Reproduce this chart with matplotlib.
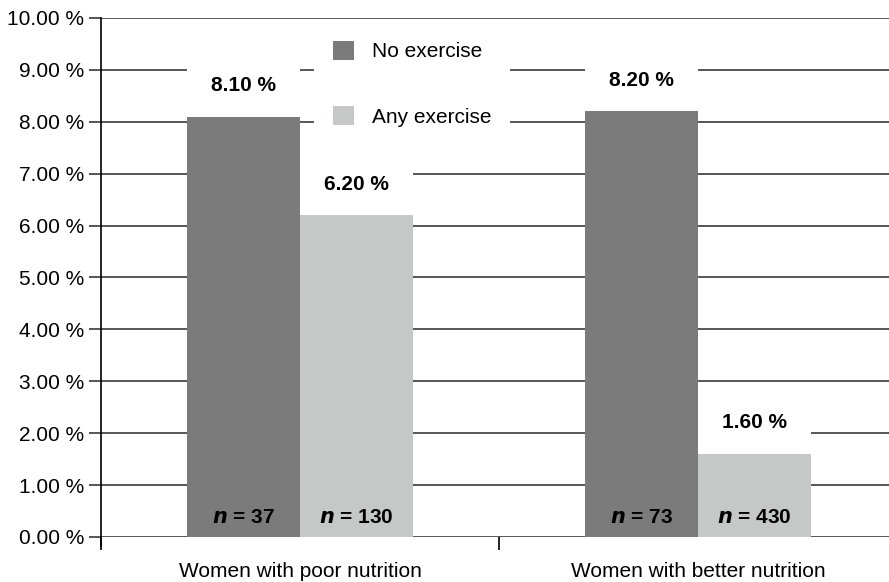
import matplotlib
matplotlib.use("Agg")
import matplotlib.pyplot as plt
from matplotlib.patches import Patch
import numpy as np

groups = ["Women with poor nutrition", "Women with better nutrition"]
series = ["No exercise", "Any exercise"]
no_exercise = [8.10, 8.20]
any_exercise = [6.20, 1.60]
n_no_exercise = [37, 73]
n_any_exercise = [130, 430]

colors = ["#7b7b7b", "#c6c8c7"]
grid_color = "#3a3a3a"

plt.rcParams["font.family"] = ["Liberation Sans", "DejaVu Sans"]
plt.rcParams["font.size"] = 15

fig = plt.figure(figsize=(8.89, 5.82), dpi=100)
ax = fig.add_axes([101 / 889, 45 / 582, 796 / 889, 519 / 582])

x = np.arange(len(groups))
width = 0.284
offsets = [-width / 2, width / 2]

for vals, ns, off, col in [(no_exercise, n_no_exercise, offsets[0], colors[0]),
                           (any_exercise, n_any_exercise, offsets[1], colors[1])]:
    xs = x + off
    ax.bar(xs, vals, width=width, color=col, zorder=3)
    for xi, v, n in zip(xs, vals, ns):
        # white label box sits over the gridlines, just above the bar
        ax.bar(xi, 1.0, bottom=v, width=width, color="white", zorder=2)
        ax.text(xi, v + 0.6, f"{v:.2f} %", ha="center", va="center",
                fontweight="bold", zorder=4)
        ax.text(xi, 0.2, f"$\\boldsymbol{{n}}$ = {n}", ha="center",
                va="bottom", fontweight="bold", zorder=4)

ax.set_xlim(-0.5, 1.5)
ax.set_ylim(0, 10)
ax.set_yticks(np.arange(0, 10.01, 1))
ax.set_yticklabels([f"{v:.2f} %" for v in np.arange(0, 10.01, 1)])
ax.yaxis.grid(True, color=grid_color, lw=1.2, zorder=1)
ax.set_axisbelow(True)

# category boundaries as ticks, names centred between them
ax.set_xticks([-0.5, 0.5, 1.5])
ax.set_xticklabels([])
ax.set_xticks(x, minor=True)
ax.set_xticklabels(groups, minor=True)
ax.tick_params(axis="x", which="minor", length=0, pad=18)
ax.tick_params(axis="x", which="major", length=9, width=1.2, color="black")
ax.tick_params(axis="y", length=9, width=1.2, color=grid_color, pad=3)

for s in ["top", "right", "bottom"]:
    ax.spines[s].set_visible(False)
ax.spines["left"].set_linewidth(1.2)
ax.spines["left"].set_bounds(-0.18, 10)

handles = [Patch(facecolor=c, edgecolor="none") for c in colors]
leg = ax.legend(handles, series, loc="upper left",
                bbox_to_anchor=(0.2676, 0.992), borderaxespad=0,
                frameon=True, facecolor="white", edgecolor="none",
                framealpha=1, fancybox=False, handlelength=1.0,
                handleheight=1.0, handletextpad=0.86, labelspacing=2.15,
                borderpad=0.9)
leg.set_zorder(5)

fig.savefig("out.png", dpi=100)
